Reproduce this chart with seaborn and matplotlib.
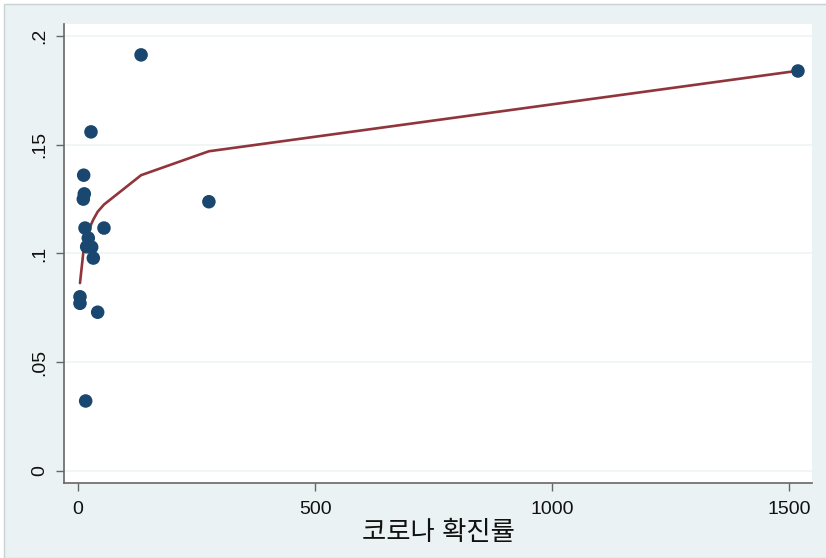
import matplotlib
matplotlib.use('Agg')
import matplotlib.pyplot as plt
from matplotlib.patches import Rectangle
import seaborn as sns
import pandas as pd

# confirmed-case rate (x) vs ratio (y), plus the fitted curve
rate = [4.2, 4.2, 11.2, 12.0, 13.3, 14.8, 16.2, 18.3, 21.7, 27.4, 28.9,
        32.3, 41.5, 54.8, 133, 276, 1518]
ratio = [0.0801, 0.0771, 0.125, 0.136, 0.1274, 0.1117, 0.0322, 0.1031, 0.1071,
         0.1559, 0.1029, 0.0979, 0.073, 0.1117, 0.1913, 0.1238, 0.1839]
fitted = [0.0864, 0.0864, 0.1004, 0.1014, 0.1029, 0.1044, 0.1057, 0.1075,
          0.1099, 0.1132, 0.1140, 0.1156, 0.1192, 0.1225, 0.136, 0.147, 0.184]

x_ticks = [0, 500, 1000, 1500]
y_ticks = [0, 0.05, 0.1, 0.15, 0.2]
y_labels = ["0", ".05", ".1", ".15", ".2"]

df = pd.DataFrame({"rate": rate, "ratio": ratio, "fitted": fitted})

sns.set_style("white")
plt.rcParams['font.family'] = ['Liberation Sans', 'Noto Sans CJK KR']

W, H = 826, 558
fig = plt.figure(figsize=(W / 100, H / 100), dpi=100, facecolor="white")
# stata-like outer panel, kept behind the axes
fig.patches.append(Rectangle((4 / W, 0), 1, 1 - 4 / H, transform=fig.transFigure,
                             facecolor="#eaf2f3", edgecolor="#c9d3d5", lw=1, zorder=-10))

ax = fig.add_axes([64 / W, 1 - 483 / H, 748 / W, 459 / H])
ax.set_facecolor("white")

sns.scatterplot(data=df, x="rate", y="ratio", ax=ax, color="#1a476f", s=95,
                edgecolor="none", zorder=3)
sns.lineplot(data=df, x="rate", y="fitted", ax=ax, color="#90353b", lw=1.9,
             estimator=None, zorder=2)

ax.set_xlim(-29.5, 1547.6)
ax.set_ylim(-0.0055, 0.2055)
ax.set_xticks(x_ticks)
ax.set_xticklabels([str(t) for t in x_ticks])
ax.set_yticks(y_ticks)
ax.set_yticklabels(y_labels, rotation=90, va="center")
for t in y_ticks:
    ax.axhline(t, color="#edf3f4", lw=1.2, zorder=1)

for side in ["top", "right"]:
    ax.spines[side].set_visible(False)
for side in ["left", "bottom"]:
    ax.spines[side].set_color("#666666")
    ax.spines[side].set_linewidth(1.2)

ax.tick_params(axis="both", which="major", length=6, width=1, color="#666666",
               labelsize=14, labelcolor="#111111", direction="out")
ax.tick_params(axis="x", pad=7)
ax.tick_params(axis="y", pad=5)
ax.tick_params(left=True, bottom=True)

ax.set_xlabel("코로나 확진률", fontsize=19, color="#111111", labelpad=2)
ax.set_ylabel("")

fig.savefig("out.png", dpi=100, facecolor=fig.get_facecolor())
